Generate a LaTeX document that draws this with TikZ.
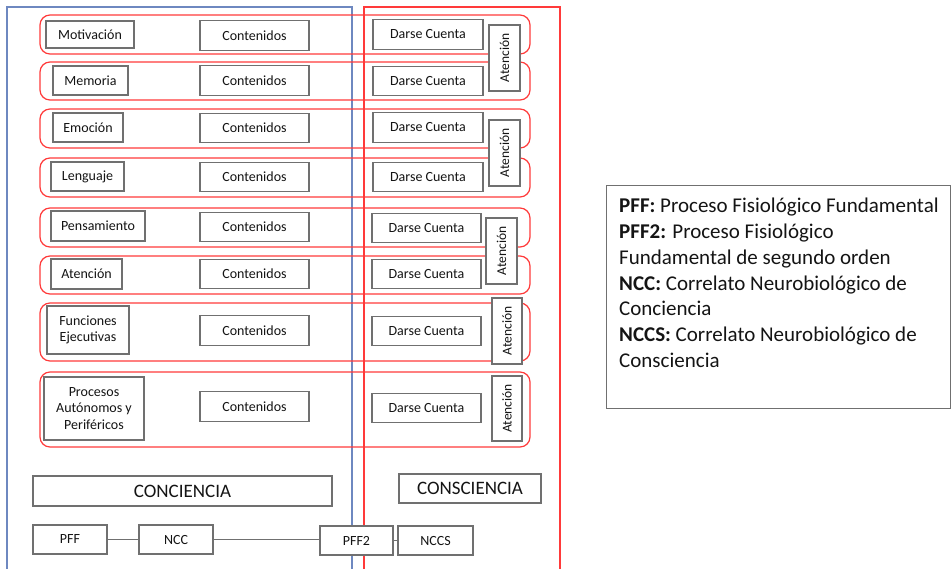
\documentclass[tikz,border=0pt]{standalone}
\usepackage{fontspec}
\setmainfont{Carlito}
\definecolor{frameblue}{RGB}{110,136,192}
\definecolor{framered}{RGB}{255,58,58}
\definecolor{boxgray}{RGB}{112,112,112}
\definecolor{ink}{RGB}{20,20,20}
\begin{document}
\begin{tikzpicture}[x=1pt,y=-1pt,
  gbox/.style={draw=boxgray,line width=1.2pt,fill=white,inner sep=1pt,
    text=ink,font=\fontsize{14}{16.5}\selectfont,align=center},
  lbl/.style={gbox},
  cont/.style={gbox,minimum width=109pt,minimum height=29.5pt},
  darse/.style={gbox,minimum height=29.5pt},
  aten/.style={gbox,rotate=90,minimum height=31pt,font=\fontsize{13.5}{15}\selectfont},
  rowframe/.style={draw=framered,line width=1.2pt,rounded corners=10pt},
  bigbox/.style={gbox,font=\fontsize{19}{22}\selectfont},
  smallbox/.style={gbox,minimum width=74pt,minimum height=29pt,font=\fontsize{14}{16}\selectfont},
  link/.style={draw=boxgray,line width=1.2pt}]
\useasboundingbox (0,0) rectangle (951,568);

% the two large frames
\draw[frameblue,line width=1.3pt] (7,575) -- (7,7) -- (352,7) -- (352,575);
\draw[framered,line width=1.3pt] (364,575) -- (364,7) -- (560,7) -- (560,575);

% one rounded frame per row
\foreach \ya/\yb in {15/54,62/100,109/148,158/197,208/247,256/294,303/361,372/447}
  \draw[rowframe] (40,\ya) rectangle (530,\yb);

% left labels
\node[lbl,minimum width=88pt,minimum height=27pt] (mot) at (90,34.5) {Motivación};
\node[lbl,minimum width=75pt,minimum height=29pt] (mem) at (90.5,80.5) {Memoria};
\node[lbl,minimum width=70pt,minimum height=29pt] (emo) at (88,127.5) {Emoción};
\node[lbl,minimum width=73pt,minimum height=29pt] (len) at (87.5,176.5) {Lenguaje};
\node[lbl,minimum width=94pt,minimum height=30pt] (pen) at (98,226) {Pensamiento};
\node[lbl,minimum width=71pt,minimum height=30pt] (ate) at (86.5,274) {Atención};
\node[lbl,minimum width=82pt,minimum height=48pt] (fun) at (88,330) {Funciones\\Ejecutivas};
\node[lbl,minimum width=100pt,minimum height=63pt] (pro) at (94,408.5) {Procesos\\Autónomos y\\Periféricos};

% contents column
\foreach \n/\y in {1/35.5,2/80.5,3/128,4/177,5/227,6/274,7/330.5,8/406.5}
  \node[cont] (c\n) at (254.5,\y) {Contenidos};

% awareness column
\foreach \n/\x/\y in {1/428/34.5,2/428/81,3/428/127.5,4/428/177}
  \node[darse,minimum width=110pt] (d\n) at (\x,\y) {Darse Cuenta};
\foreach \n/\x/\y in {5/426.5/228,6/426.5/274,7/426.5/331,8/426.5/408}
  \node[darse,minimum width=109pt] (d\n) at (\x,\y) {Darse Cuenta};

% attention boxes (vertical)
\node[aten,minimum width=66pt] (a1) at (504.5,58) {Atención};
\node[aten,minimum width=66pt] (a2) at (504.5,153) {Atención};
\node[aten,minimum width=66pt] (a3) at (501.5,251) {Atención};
\node[aten,minimum width=66pt,minimum height=30pt] (a4) at (507,331) {Atención};
\node[aten,minimum width=65pt,minimum height=30pt] (a5) at (507,408.5) {Atención};

% bottom titles
\node[bigbox,minimum width=299pt,minimum height=30pt] (conc) at (182.5,491) {CONCIENCIA};
\node[bigbox,minimum width=142pt,minimum height=29pt] (consc) at (470,488.5) {CONSCIENCIA};

% chain of processes
\node[smallbox] (pff) at (70,539.5) {PFF};
\node[smallbox] (ncc) at (176,539.5) {NCC};
\node[smallbox,minimum width=73pt] (pff2) at (356.5,540.5) {PFF2};
\node[smallbox,minimum width=75pt] (nccs) at (435.5,540.5) {NCCS};
\draw[link] (pff.east) -- (ncc.west);
\draw[link] (ncc.east) -- (ncc.east -| pff2.west);
\draw[link] (pff2.east) -- (nccs.west);

% legend
\node[draw=boxgray,line width=1pt,minimum width=344pt,minimum height=223pt,
  anchor=north west,inner sep=0pt] (legendbox) at (606,185) {};
\node[anchor=north west,align=left,inner sep=0pt,text=ink,
  font=\fontsize{21}{25.8}\selectfont] (legendtext) at (619,198)
  {\textbf{PFF:} Proceso Fisiológico Fundamental\\
   \textbf{PFF2:} Proceso Fisiológico\\
   Fundamental de segundo orden\\
   \textbf{NCC:} Correlato Neurobiológico de\\
   Conciencia\\
   \textbf{NCCS:} Correlato Neurobiológico de\\
   Consciencia};
\end{tikzpicture}
\end{document}
